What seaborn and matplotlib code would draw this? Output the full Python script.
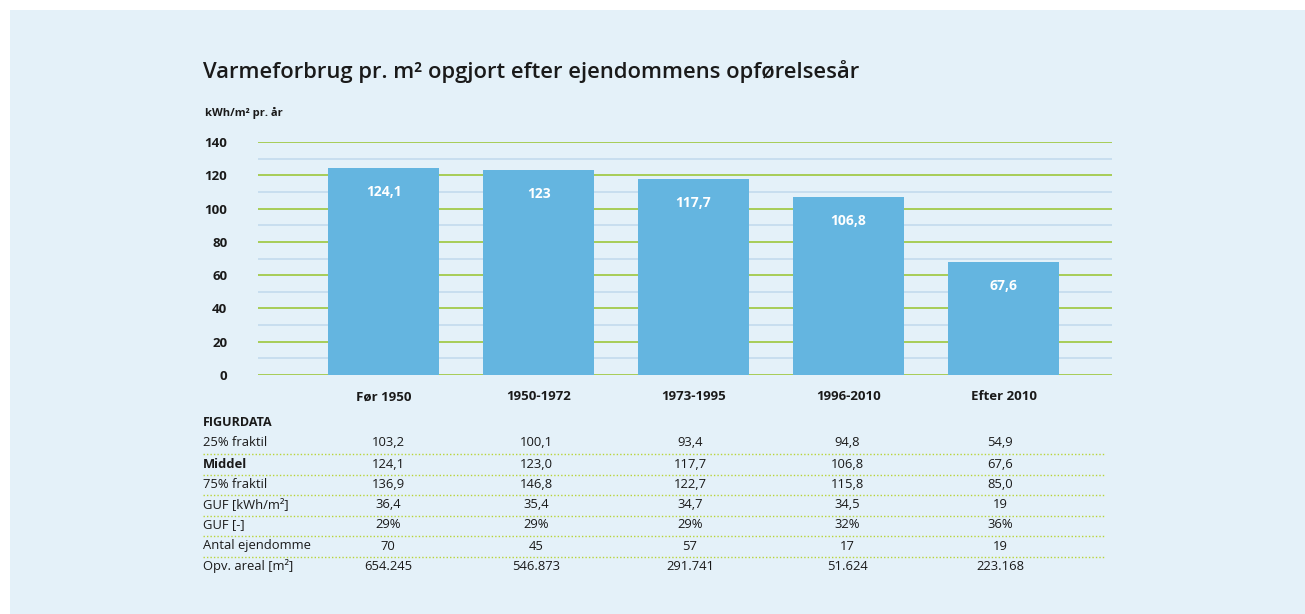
import matplotlib
matplotlib.use("Agg")
import matplotlib.pyplot as plt
from matplotlib.patches import Rectangle
from matplotlib.lines import Line2D
import seaborn as sns
import pandas as pd

# Data
perioder = ["Før 1950", "1950-1972", "1973-1995", "1996-2010", "Efter 2010"]
middel = [124.1, 123.0, 117.7, 106.8, 67.6]
bar_labels = ["124,1", "123", "117,7", "106,8", "67,6"]

raekke_navne = ["25% fraktil", "Middel", "75% fraktil", "GUF [kWh/m²]", "GUF [-]",
                "Antal ejendomme", "Opv. areal [m²]"]
fraktil25 = ["103,2", "100,1", "93,4", "94,8", "54,9"]
middel_txt = ["124,1", "123,0", "117,7", "106,8", "67,6"]
fraktil75 = ["136,9", "146,8", "122,7", "115,8", "85,0"]
guf_kwh = ["36,4", "35,4", "34,7", "34,5", "19"]
guf_pct = ["29%", "29%", "29%", "32%", "36%"]
antal = ["70", "45", "57", "17", "19"]
areal = ["654.245", "546.873", "291.741", "51.624", "223.168"]
tabel = [fraktil25, middel_txt, fraktil75, guf_kwh, guf_pct, antal, areal]

W, H = 1305, 614
bg = "#e4f1f9"
bar_color = "#64b5e0"
green = "#9cc63c"
minor_blue = "#c3dbed"
txt = "#1a1a1a"

plt.rcParams["font.family"] = ["Open Sans", "DejaVu Sans"]

fig = plt.figure(figsize=(W / 100, H / 100), dpi=100)
fig.patch.set_facecolor("white")
fig.add_artist(Rectangle((10 / W, 0), 1 - 10 / W, 1 - 10 / H, transform=fig.transFigure,
                         facecolor=bg, edgecolor="none", zorder=-10))

ax = fig.add_axes([258 / W, 1 - 375 / H, 854 / W, 233 / H])
ax.set_facecolor(bg)

df = pd.DataFrame({"periode": perioder, "middel": middel})
sns.barplot(data=df, x="periode", y="middel", color=bar_color, width=0.72,
            saturation=1, ax=ax, zorder=3)

ax.set_ylim(0, 140)
ax.set_xlim(-0.81, 4.70)
ax.set_yticks(range(0, 141, 20))
ax.set_yticks(range(10, 141, 20), minor=True)
ax.grid(axis="y", which="major", color=green, linewidth=1.2, zorder=0)
ax.grid(axis="y", which="minor", color=minor_blue, linewidth=1.2, zorder=0)
ax.grid(axis="x", visible=False)
ax.set_axisbelow(True)
for s in ax.spines.values():
    s.set_visible(False)
ax.tick_params(axis="both", which="both", length=0)
ax.tick_params(axis="y", pad=22, labelsize=9.5, labelcolor=txt)
ax.tick_params(axis="x", pad=11, labelsize=9.5, labelcolor=txt)
for lbl in ax.get_yticklabels() + ax.get_xticklabels():
    lbl.set_fontweight("bold")
ax.set_xlabel("")
ax.set_ylabel("")

for i, (v, l) in enumerate(zip(middel, bar_labels)):
    ax.annotate(l, (i, v), xytext=(0, -17), textcoords="offset points",
                ha="center", va="center", color="white", fontsize=10,
                fontweight="bold", zorder=5)

fig.text(203 / W, 1 - 72 / H, "Varmeforbrug pr. m² opgjort efter ejendommens opførelsesår",
         fontsize=15.8, fontweight="semibold", color=txt, va="center", ha="left")
fig.text(205 / W, 1 - 113 / H, "kWh/m² pr. år", fontsize=8, fontweight="bold",
         color=txt, va="center", ha="left")

# Figurdata-tabel
fig.text(203 / W, 1 - 423 / H, "FIGURDATA", fontsize=9, fontweight="bold",
         color=txt, va="center", ha="left")
col_x = [388, 536, 690, 847, 1000]
row_y = [443, 464, 484, 505, 525, 546, 566]
for r, (navn, vals) in enumerate(zip(raekke_navne, tabel)):
    y = 1 - row_y[r] / H
    fig.text(203 / W, y, navn, fontsize=9.4, color=txt, va="center", ha="left",
             fontweight="bold" if navn == "Middel" else "normal")
    for cx, v in zip(col_x, vals):
        fig.text(cx / W, y, v, fontsize=9.4, color=txt, va="center", ha="center")
    if r < len(tabel) - 1:
        ly = 1 - (row_y[r] + 10.5) / H
        fig.add_artist(Line2D([203 / W, 1105 / W], [ly, ly], transform=fig.transFigure,
                              color="#b9d43a", linewidth=1, linestyle=(0, (1, 1.5))))

fig.savefig("out.png", dpi=100, facecolor=fig.get_facecolor())
